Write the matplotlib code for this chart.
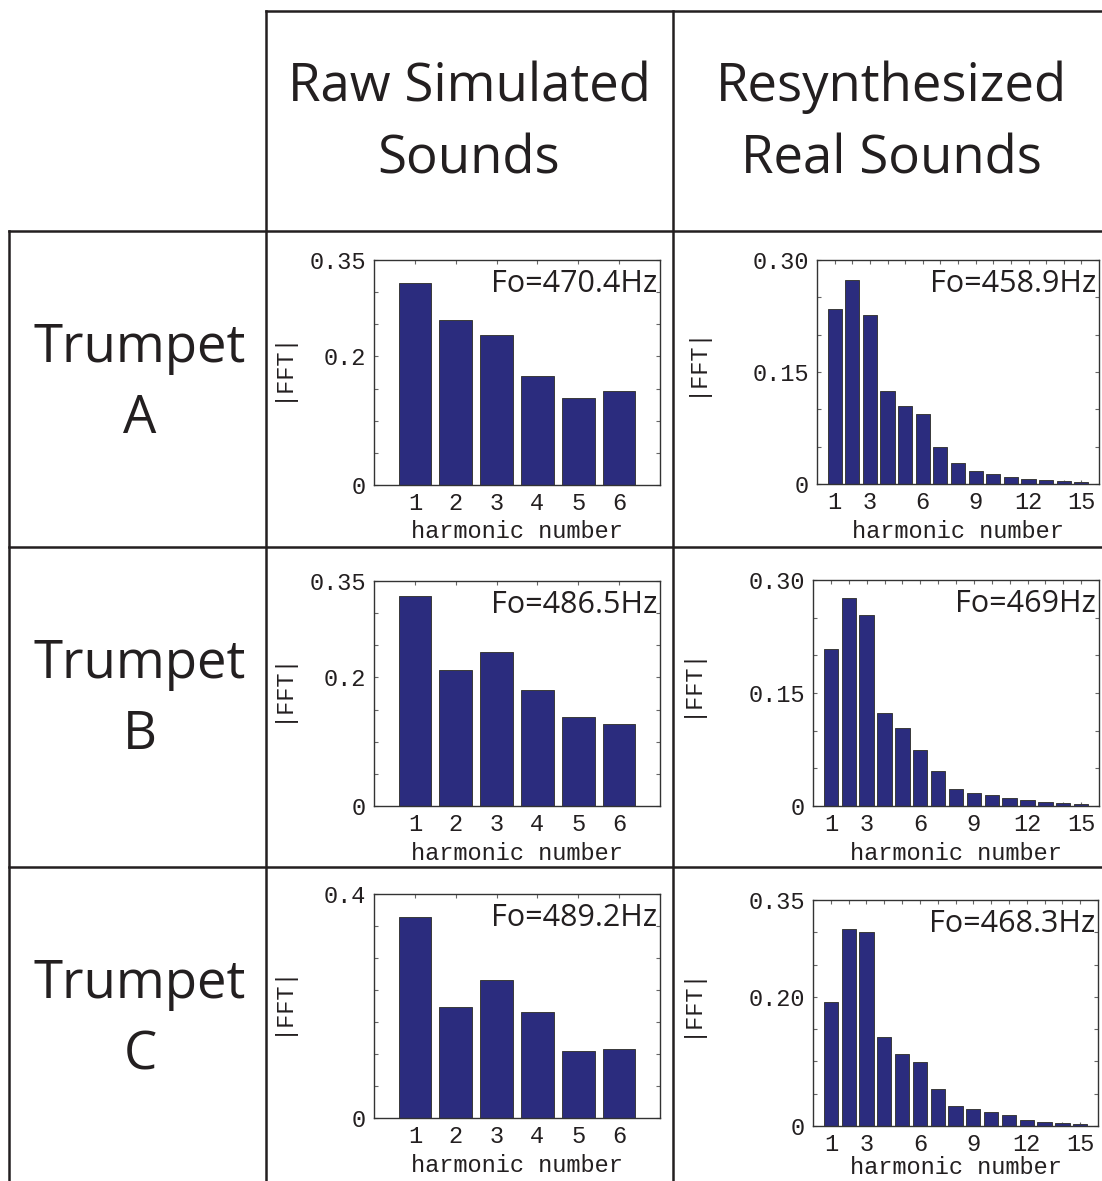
import numpy as np
import matplotlib
matplotlib.use("Agg")
from matplotlib import pyplot as plt, lines

# Data
harm_raw = [1, 2, 3, 4, 5, 6]
harm_res = list(range(1, 16))

raw_a = [0.314, 0.256, 0.233, 0.169, 0.135, 0.147]
raw_b = [0.326, 0.211, 0.239, 0.180, 0.138, 0.127]
raw_c = [0.314, 0.173, 0.215, 0.165, 0.105, 0.108]

res_a = [0.234, 0.273, 0.226, 0.125, 0.104, 0.094, 0.049, 0.028, 0.017,
         0.013, 0.010, 0.007, 0.005, 0.0036, 0.0022]
res_b = [0.209, 0.276, 0.253, 0.123, 0.103, 0.074, 0.047, 0.022, 0.017,
         0.014, 0.010, 0.008, 0.0053, 0.0035, 0.0022]
res_c = [0.192, 0.305, 0.300, 0.138, 0.111, 0.099, 0.058, 0.031, 0.026,
         0.021, 0.017, 0.010, 0.0057, 0.0041, 0.0026]

fo_raw = ["Fo=470.4Hz", "Fo=486.5Hz", "Fo=489.2Hz"]
fo_res = ["Fo=458.9Hz", "Fo=469Hz", "Fo=468.3Hz"]

rows = ["Trumpet\nA", "Trumpet\nB", "Trumpet\nC"]
cols = ["Raw Simulated\nSounds", "Resynthesized\nReal Sounds"]

# y tick labels (ticks every 0.05, only some labelled)
ylab_raw = [{0: "0", 0.2: "0.2", 0.35: "0.35"},
            {0: "0", 0.2: "0.2", 0.35: "0.35"},
            {0: "0", 0.35: "0.4"}]
ylab_res = [{0: "0", 0.15: "0.15", 0.30: "0.30"},
            {0: "0", 0.15: "0.15", 0.30: "0.30"},
            {0: "0", 0.20: "0.20", 0.35: "0.35"}]
ytop_raw = [0.35, 0.35, 0.35]
ytop_res = [0.30, 0.30, 0.35]

# Layout (pixels)
W, H = 1102, 1181
bar_color = "#2b2c7e"
line_color = "#231f20"
mono = ["Liberation Mono", "DejaVu Sans Mono"]
plt.rcParams['font.family'] = ["Open Sans", "DejaVu Sans"]

fig = plt.figure(figsize=(W/100, H/100), dpi=100)

def hline(y, x0, x1):
    fig.add_artist(lines.Line2D([x0/W, x1/W], [1-y/H, 1-y/H], color=line_color, lw=1.8,
                                transform=fig.transFigure))

def vline(x, y0, y1):
    fig.add_artist(lines.Line2D([x/W, x/W], [1-y0/H, 1-y1/H], color=line_color, lw=1.8,
                                transform=fig.transFigure))

# Table grid
hline(11, 266, W)
for y in [231, 547, 867]:
    hline(y, 9, W)
vline(9, 231, H)
vline(266, 11, H)
vline(673, 11, H)

# Headers
for cx, txt in zip([469, 891], cols):
    l1, l2 = txt.split("\n")
    fig.text(cx/W, 1-101/H, l1, ha='center', va='baseline', fontsize=38, color=line_color)
    fig.text(cx/W, 1-173/H, l2, ha='center', va='baseline', fontsize=38, color=line_color)

row_tops = [231, 547, 867]
for top, txt in zip(row_tops, rows):
    l1, l2 = txt.split("\n")
    fig.text(140/W, 1-(top+131)/H, l1, ha='center', va='baseline', fontsize=38, color=line_color)
    fig.text(140/W, 1-(top+202)/H, l2, ha='center', va='baseline', fontsize=38, color=line_color)

# Axes boxes: (left, right, top, bottom)
raw_boxes = [(374, 660, 260, 485), (374, 660, 581, 806), (374, 660, 894, 1118)]
res_boxes = [(817, 1099, 260, 484), (813, 1099, 580, 806), (813, 1098, 900, 1126)]

def panel(box, x, y, ytop, ylabs, fo, xlim, xmajor, lpad=4):
    l, r, t, b = box
    ax = fig.add_axes([l/W, 1-b/H, (r-l)/W, (b-t)/H])
    ax.bar(x, y, width=0.8, color=bar_color, edgecolor="#3a3a3a", lw=0.7, zorder=2)
    ax.set_xlim(*xlim)
    ax.set_ylim(0, ytop)
    yt = np.round(np.arange(0, ytop + 1e-9, 0.05), 2)
    ax.set_yticks(yt)
    ax.set_yticklabels([ylabs.get(round(v, 2), "") for v in yt], fontfamily=mono, fontsize=17)
    ax.set_xticks(xmajor)
    ax.set_xticklabels([str(v) for v in xmajor], fontfamily=mono, fontsize=17)
    ax.set_xticks(x, minor=True)
    ax.tick_params(which='both', direction='in', top=True, right=True, length=3,
                   width=0.8, color="#666666", labelcolor=line_color)
    ax.tick_params(axis='y', pad=6)
    ax.tick_params(axis='x', pad=5)
    for s in ax.spines.values():
        s.set_color("#333333")
        s.set_linewidth(1.0)
    ax.set_xlabel("harmonic number", fontfamily=mono, fontsize=17, color=line_color, labelpad=lpad)
    ax.set_ylabel("|FFT|", fontfamily=mono, fontsize=17, color=line_color)
    ax.text(0.99, 0.96, fo, transform=ax.transAxes, ha='right', va='top',
            fontsize=22, color=line_color)
    return ax

for i in range(3):
    ax = panel(raw_boxes[i], harm_raw, [raw_a, raw_b, raw_c][i], ytop_raw[i], ylab_raw[i],
               fo_raw[i], (0, 7), harm_raw)
    ax.yaxis.set_label_coords(-0.283, 0.53)

    ax = panel(res_boxes[i], harm_res, [res_a, res_b, res_c][i], ytop_res[i], ylab_res[i],
               fo_res[i], (0, 16), [1, 3, 6, 9, 12, 15], lpad=4 if i < 2 else 0)
    ax.yaxis.set_label_coords(-0.39, 0.55)

fig.savefig("out.png", dpi=100)
